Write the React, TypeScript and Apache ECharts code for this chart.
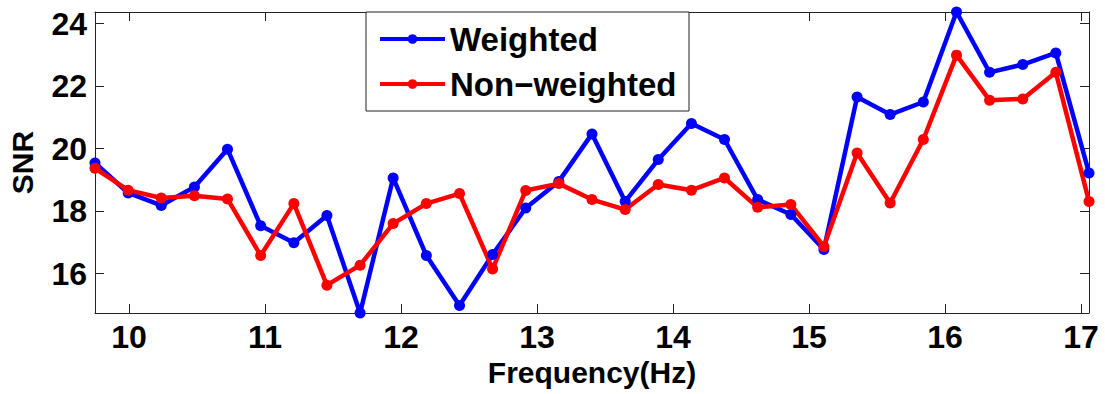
import React, { useEffect, useRef } from "react";
import * as echarts from "echarts";

const frequencies = [
  9.75, 9.994, 10.237, 10.481, 10.724, 10.968, 11.212, 11.455, 11.699, 11.942,
  12.186, 12.43, 12.673, 12.917, 13.16, 13.404, 13.648, 13.891, 14.135, 14.378,
  14.622, 14.866, 15.109, 15.353, 15.596, 15.84, 16.084, 16.327, 16.571, 16.814,
  17.058,
];
const weighted = [
  19.54, 18.58, 18.18, 18.77, 19.98, 17.53, 16.99, 17.86, 14.74, 19.06, 16.58,
  14.98, 16.61, 18.1, 18.95, 20.47, 18.31, 19.65, 20.8, 20.29, 18.37, 17.89,
  16.77, 21.65, 21.09, 21.49, 24.37, 22.44, 22.69, 23.06, 19.22,
];
const nonWeighted = [
  19.37, 18.67, 18.42, 18.49, 18.39, 16.58, 18.24, 15.63, 16.27, 17.6, 18.24,
  18.56, 16.15, 18.66, 18.88, 18.37, 18.05, 18.85, 18.67, 19.06, 18.12, 18.21,
  16.87, 19.86, 18.26, 20.29, 22.99, 21.55, 21.59, 22.44, 18.31,
];
const xTicks = [10, 11, 12, 13, 14, 15, 16, 17];
const yTicks = [16, 18, 20, 22, 24];
const seriesNames = ["Weighted", "Non\u2212weighted"];
const xRange = [9.75, 17.058];
const yRange = [14.74, 24.37];

const FONT = "'Liberation Sans', Arial, Helvetica, sans-serif";

export default function App() {
  const ref = useRef<HTMLDivElement>(null);
  useEffect(() => {
    if (!ref.current) return;
    const chart = echarts.init(ref.current, null, { renderer: "svg" });
    const axisLine = { show: true, onZero: false, lineStyle: { color: "#222", width: 1 } };
    const mkX = (pos: string, labels: boolean) => ({
      type: "value",
      position: pos,
      min: xRange[0],
      max: xRange[1],
      axisLine,
      splitLine: { show: false },
      axisTick: { show: true, inside: true, length: 9, customValues: xTicks, lineStyle: { color: "#222" } },
      axisLabel: {
        show: labels,
        customValues: xTicks,
        margin: 8,
        color: "#000",
        fontSize: 32,
        fontWeight: "bold",
        fontFamily: FONT,
      },
    });
    const mkY = (pos: string, labels: boolean) => ({
      type: "value",
      position: pos,
      min: yRange[0],
      max: yRange[1],
      axisLine,
      splitLine: { show: false },
      axisTick: { show: true, inside: true, length: 9, customValues: yTicks, lineStyle: { color: "#222" } },
      axisLabel: {
        show: labels,
        customValues: yTicks,
        margin: 8,
        color: "#000",
        fontSize: 32,
        fontWeight: "bold",
        fontFamily: FONT,
      },
    });
    const x0: any = mkX("bottom", true);
    x0.name = "Frequency(Hz)";
    x0.nameLocation = "middle";
    x0.nameGap = 44;
    x0.nameTextStyle = { color: "#000", fontSize: 30, fontWeight: "bold", fontFamily: FONT };
    const y0: any = mkY("left", true);
    y0.name = "SNR";
    y0.nameLocation = "middle";
    y0.nameGap = 58;
    y0.nameTextStyle = { color: "#000", fontSize: 30, fontWeight: "bold", fontFamily: FONT };

    const mkSeries = (name: string, vals: number[], color: string) => ({
      type: "line",
      name,
      xAxisIndex: 0,
      yAxisIndex: 0,
      data: frequencies.map((f, i) => [f, vals[i]]),
      symbol: "circle",
      symbolSize: 11,
      lineStyle: { color, width: 4.5 },
      itemStyle: { color },
      emphasis: { disabled: true },
      clip: false,
      z: 2,
    });

    chart.setOption({
      animation: false,
      backgroundColor: "#fff",
      grid: {
        left: 95,
        right: 16,
        top: 12,
        bottom: 81,
        containLabel: false,
        outerBoundsMode: "none",
      },
      xAxis: [x0, mkX("top", false)],
      yAxis: [y0, mkY("right", false)],
      legend: {
        orient: "vertical",
        left: 378,
        top: 21,
        padding: 0,
        itemGap: 9,
        itemWidth: 65,
        itemHeight: 12,
        z: 20,
        data: seriesNames,
        lineStyle: { width: 4 },
        textStyle: {
          color: "#000",
          fontSize: 33,
          lineHeight: 36,
          fontWeight: "bold",
          fontFamily: FONT,
        },
        selectedMode: false,
      },
      graphic: {
        z: 10,
        elements: [
          {
            type: "rect",
            shape: { x: 366, y: 12, width: 323, height: 99 },
            style: { fill: "#fff", stroke: "#222", lineWidth: 1 },
            z: 10,
          },
        ],
      },
      series: [
        mkSeries(seriesNames[0], weighted, "#0000ff"),
        mkSeries(seriesNames[1], nonWeighted, "#ff0000"),
      ],
    });
    return () => chart.dispose();
  }, []);
  return (
    <div
      ref={ref}
      style={{ position: "absolute", left: 0, top: 0, width: 1105, height: 394 }}
    />
  );
}
